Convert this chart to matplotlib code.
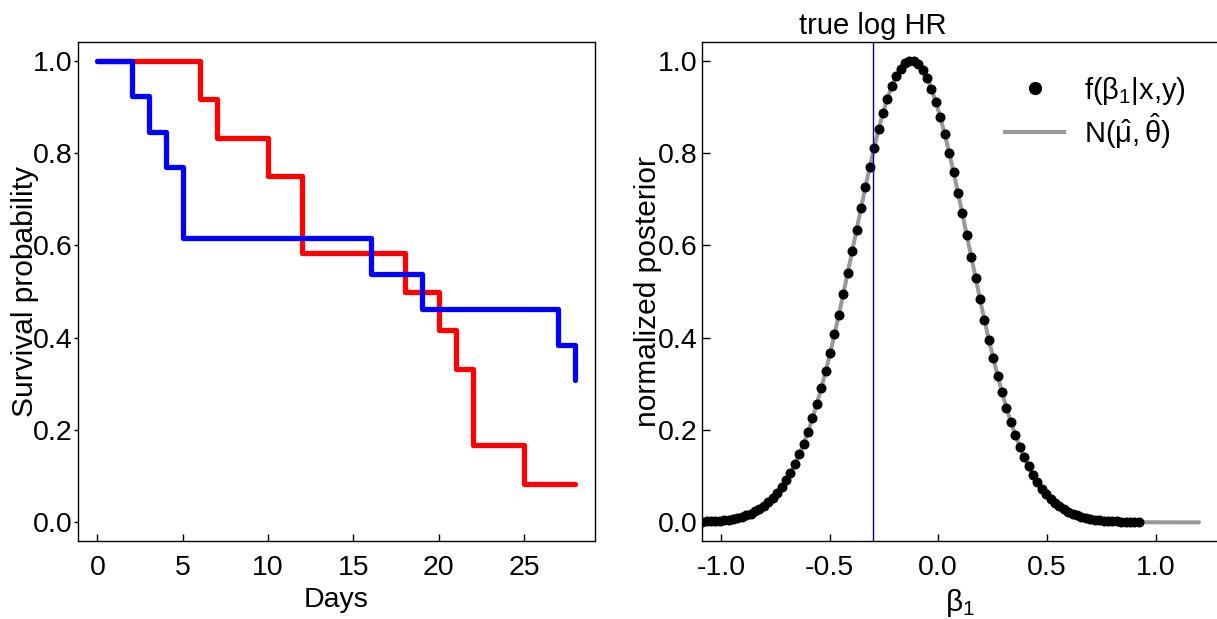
import numpy as np
import matplotlib
matplotlib.use("Agg")
import matplotlib.pyplot as plt
import matplotlib.transforms as mtransforms
from matplotlib.lines import Line2D

plt.rcParams['font.family'] = ['Liberation Sans', 'DejaVu Sans']
plt.rcParams['mathtext.fontset'] = 'custom'
plt.rcParams['mathtext.rm'] = 'Liberation Sans'
plt.rcParams['mathtext.it'] = 'Liberation Sans:italic'
plt.rcParams['mathtext.bf'] = 'Liberation Sans:bold'
plt.rcParams['axes.unicode_minus'] = False

FS_TICK = 20.5
FS_LAB = 21.5

# Kaplan-Meier curves (left panel)
red_times = [0, 6, 7, 10, 12, 18, 20, 21, 22, 25, 28]
red_surv = [1.0, 0.917, 0.833, 0.75, 0.583, 0.5, 0.417, 0.333, 0.167, 0.083, 0.083]
blue_times = [0, 2, 3, 4, 5, 16, 19, 27, 28]
blue_surv = [1.0, 0.923, 0.846, 0.769, 0.615, 0.538, 0.462, 0.385, 0.308]
day_ticks = [0, 5, 10, 15, 20, 25]

# normalized posterior (right panel)
beta_grid = np.linspace(-1.107, 0.923, 101)
posterior = [
    0.001, 0.001, 0.002, 0.002, 0.003, 0.004, 0.005, 0.006, 0.008, 0.010,
    0.012, 0.016, 0.019, 0.024, 0.030, 0.036, 0.044, 0.053, 0.064, 0.077,
    0.091, 0.107, 0.126, 0.147, 0.170, 0.196, 0.225, 0.256, 0.290, 0.327,
    0.366, 0.407, 0.450, 0.495, 0.540, 0.587, 0.634, 0.680, 0.726, 0.770,
    0.811, 0.851, 0.886, 0.918, 0.945, 0.967, 0.983, 0.994, 1.000, 0.999,
    0.992, 0.980, 0.962, 0.938, 0.910, 0.877, 0.841, 0.801, 0.759, 0.714,
    0.669, 0.622, 0.575, 0.529, 0.483, 0.439, 0.396, 0.356, 0.318, 0.282,
    0.248, 0.218, 0.190, 0.164, 0.141, 0.121, 0.103, 0.087, 0.073, 0.061,
    0.051, 0.042, 0.035, 0.028, 0.023, 0.018, 0.015, 0.012, 0.009, 0.007,
    0.006, 0.005, 0.004, 0.003, 0.002, 0.002, 0.001, 0.001, 0.001, 0.001,
    0.000,
]
mu_hat = -0.125
theta_hat = 0.263
normal_range = (-1.1, 1.2)
true_log_hr = -0.3
beta_ticks = [-1.0, -0.5, 0.0, 0.5, 1.0]
prob_ticks = [0.0, 0.2, 0.4, 0.6, 0.8, 1.0]

fig = plt.figure(figsize=(12.17, 6.19), dpi=100)
ax1 = fig.add_axes([0.0643, 0.1263, 0.4242, 0.8055])
ax2 = fig.add_axes([0.5767, 0.1263, 0.4242, 0.8055])

for ax in (ax1, ax2):
    for sp in ax.spines.values():
        sp.set_linewidth(1.0)
    ax.tick_params(labelsize=FS_TICK, width=1.0)

# ---- left panel: survival curves
ax1.step(red_times, red_surv, where='post', color='#ff0000', lw=3.8,
         solid_capstyle='round', solid_joinstyle='round')
ax1.step(blue_times, blue_surv, where='post', color='#0000ff', lw=3.8,
         solid_capstyle='round', solid_joinstyle='round')
ax1.set_xlim(-1.12, 29.12)
ax1.set_ylim(-0.04, 1.04)
ax1.set_xticks(day_ticks)
ax1.set_xticklabels([str(d) for d in day_ticks])
ax1.set_yticks(prob_ticks)
ax1.set_yticklabels(['%.1f' % v for v in prob_ticks])
ax1.tick_params(axis='y', direction='out', length=3, pad=1)
ax1.tick_params(axis='x', direction='in', length=5, pad=10)
ax1.set_xlabel('Days', fontsize=FS_TICK)
ax1.xaxis.set_label_coords(0.5, -0.092)
ax1.set_ylabel('Survival probability', fontsize=FS_LAB)
ax1.yaxis.set_label_coords(-0.076, 0.5)

# ---- right panel: posterior vs normal approximation
xs = np.linspace(normal_range[0], normal_range[1], 400)
ax2.plot(xs, np.exp(-0.5 * ((xs - mu_hat) / theta_hat) ** 2),
         color='#999999', lw=2.9, solid_capstyle='round')
ax2.plot(beta_grid, posterior, 'o', color='black', ms=6.2, lw=0)
ax2.axvline(true_log_hr, color='#000080', lw=1.0)
ax2.set_xlim(-1.088, 1.288)
ax2.set_ylim(-0.04, 1.04)
ax2.set_xticks(beta_ticks)
ax2.set_xticklabels(['%.1f' % v for v in beta_ticks])
ax2.set_yticks(prob_ticks)
ax2.set_yticklabels(['%.1f' % v for v in prob_ticks])
ax2.tick_params(axis='y', direction='in', length=6, pad=3)
ax2.tick_params(axis='x', direction='in', length=5, pad=10)
ax2.set_xlabel(r'$\mathrm{\beta_1}$', fontsize=FS_LAB)
ax2.xaxis.set_label_coords(0.5, -0.092)
ax2.set_ylabel('normalized posterior', fontsize=FS_LAB)
ax2.yaxis.set_label_coords(-0.077, 0.5)

trans = mtransforms.blended_transform_factory(ax2.transData, ax2.transAxes)
ax2.text(true_log_hr, 1.016, 'true log HR', transform=trans, ha='center',
         va='baseline', fontsize=21)

handles = [
    Line2D([], [], marker='o', color='black', ms=8.5, lw=0),
    Line2D([], [], color='#999999', lw=3.0),
]
labels = [r'$\mathrm{f(\beta_1|x{,}y)}$', r'$\mathrm{N(\hat{\mu},\hat{\theta})}$']
ax2.legend(handles, labels, loc='upper left', bbox_to_anchor=(0.588, 0.935),
           frameon=False, fontsize=21, borderpad=0, borderaxespad=0,
           handlelength=2.0, handletextpad=0.7, labelspacing=0.15)

fig.savefig('out.png', dpi=100)
